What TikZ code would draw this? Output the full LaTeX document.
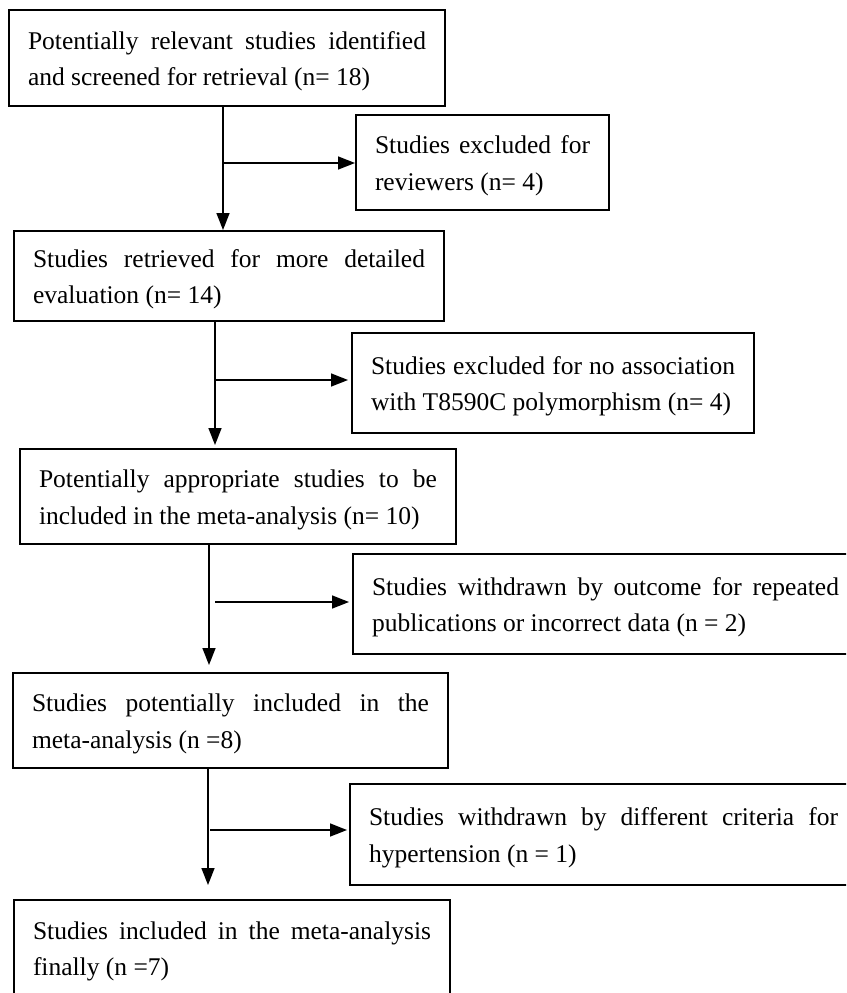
\documentclass[tikz,border=0pt]{standalone}
\usepackage{fontspec}
\setmainfont{Liberation Serif}
\usetikzlibrary{arrows.meta}
\newcommand\tsp{\rule{0pt}{24.5pt}}
\tikzset{
  flowbox/.style={draw=black, line width=2pt, anchor=north west, inner xsep=19pt, inner ysep=0pt, align=justify,
    font=\fontsize{25.5}{36.7}\selectfont},
  arr/.style={line width=1.6pt, -{Triangle[length=17pt,width=13pt]}}
}
\begin{document}
\begin{tikzpicture}[x=1pt,y=-1pt]
\useasboundingbox (0,0) rectangle (846,993);
\clip (0,0) rectangle (846,993);
\node[flowbox, minimum height=96pt, text width=398pt] (b1) at (8,9)
  {\tsp Potentially relevant studies identified\linebreak and screened for retrieval (n= 18)};
\node[flowbox, minimum height=95pt, text width=215pt] (b2) at (355,114)
  {\tsp Studies excluded for\linebreak reviewers (n= 4)};
\node[flowbox, minimum height=90pt, text width=392pt] (b3) at (13,230)
  {\tsp Studies retrieved for more detailed\linebreak evaluation (n= 14)};
\node[flowbox, minimum height=100pt, text width=364pt] (b4) at (351,332)
  {\tsp Studies excluded for no association\linebreak with T8590C polymorphism (n= 4)};
\node[flowbox, minimum height=95pt, text width=398pt] (b5) at (19,448)
  {\tsp Potentially appropriate studies to be\linebreak included in the meta-analysis (n= 10)};
\node[flowbox, minimum height=100pt, text width=467pt] (b6) at (352,553)
  {\tsp Studies withdrawn by outcome for repeated\linebreak publications or incorrect data (n = 2)};
\node[flowbox, minimum height=95pt, text width=397pt] (b7) at (12,672)
  {\tsp Studies potentially included in the\linebreak meta-analysis (n =8)};
\node[flowbox, minimum height=101pt, text width=469pt] (b8) at (349,783)
  {\tsp Studies withdrawn by different criteria for\linebreak hypertension (n = 1)};
\node[flowbox, minimum height=96pt, text width=398pt] (b9) at (13,899)
  {\tsp Studies included in the meta-analysis\linebreak finally (n =7)};

\coordinate (j1) at (223,163);
\coordinate (j2) at (215,380);
\coordinate (k3) at (209,602);
\coordinate (j3) at (215,602);
\coordinate (k4) at (208,830);
\coordinate (j4) at (210,830);

\draw[arr] (b1.south -| j1) -- (b3.north -| j1);
\draw[arr] (j1) -- (j1 -| b2.west);
\draw[arr, shorten >=3pt] (b3.south -| j2) -- (b5.north -| j2);
\draw[arr, shorten >=3pt] (j2) -- (j2 -| b4.west);
\draw[arr, shorten >=7pt] (b5.south -| k3) -- (b7.north -| k3);
\draw[arr, shorten >=3pt] (j3) -- (j3 -| b6.west);
\draw[arr, shorten >=14pt] (b7.south -| k4) -- (b9.north -| k4);
\draw[arr, shorten >=2pt] (j4) -- (j4 -| b8.west);
\end{tikzpicture}
\end{document}
